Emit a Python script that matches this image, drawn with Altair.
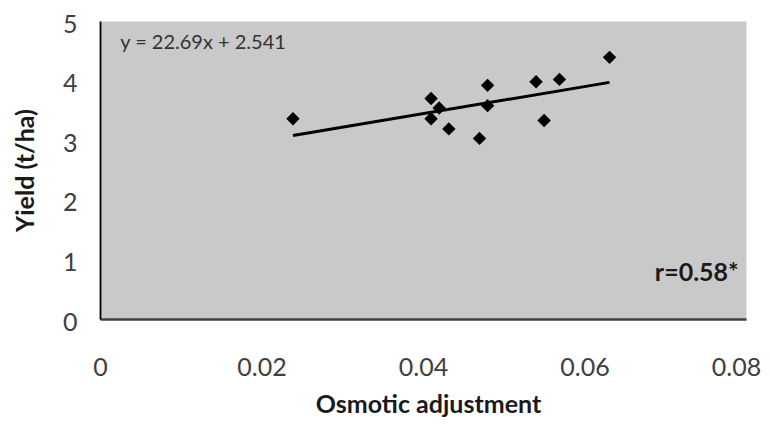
import altair as alt
import pandas as pd

# Scatter data
osmotic = [0.0239, 0.0410, 0.0420, 0.0410, 0.0432, 0.0470, 0.0480, 0.0480, 0.0540, 0.0550, 0.0569, 0.0631]
yield_t = [3.36, 3.70, 3.54, 3.36, 3.19, 3.03, 3.92, 3.58, 3.98, 3.33, 4.02, 4.39]

# Trend line end points
trend_x = [0.0239, 0.0631]
trend_y = [3.08, 3.97]

x_ticks = [0, 0.02, 0.04, 0.06, 0.08]
y_ticks = [0, 1, 2, 3, 4, 5]

equation_text = "y = 22.69x + 2.541"
r_text = "r=0.58*"

pts = pd.DataFrame({"x": osmotic, "y": yield_t})
trend = pd.DataFrame({"x": trend_x, "y": trend_y})
eq = pd.DataFrame({"x": [0.0025], "y": [4.63], "t": [equation_text]})
rr = pd.DataFrame({"x": [0.0791], "y": [0.77], "t": [r_text]})

FONT = "Lato"

xscale = alt.Scale(domain=[0, 0.08], nice=False, zero=False)
yscale = alt.Scale(domain=[0, 5], nice=False)

xaxis = alt.Axis(
    values=x_ticks, grid=False, ticks=False, labelFlush=False,
    labelExpr="datum.value == 0 ? '0' : format(datum.value, '.2f')",
    labelOffset={"condition": {"test": "datum.value >= 0.079", "value": -10}, "value": 0},
    labelFont=FONT, labelFontSize=25, labelColor="#404040", labelPadding=36,
    domainColor="#404040", domainWidth=2.5,
    title="Osmotic adjustment", titleFont=FONT, titleFontSize=25, titleFontWeight="bold",
    titleColor="#1a1a1a", titleX=328, titleY=85, titleBaseline="middle", titleAlign="center",
)
yaxis = alt.Axis(
    values=y_ticks, grid=False, ticks=False, labelFlush=False, format="d",
    labelOffset=3,
    labelFont=FONT, labelFontSize=25, labelColor="#404040", labelPadding=23,
    domainColor="#000000", domainWidth=1.8,
    title="Yield (t/ha)", titleFont=FONT, titleFontSize=25, titleFontWeight="bold",
    titleColor="#1a1a1a", titleX=-75, titleY=149, titleAngle=-90,
    titleBaseline="middle", titleAlign="center",
)

base_x = alt.X("x:Q", scale=xscale, axis=xaxis)
base_y = alt.Y("y:Q", scale=yscale, axis=yaxis)

line = alt.Chart(trend).mark_line(color="#000000", strokeWidth=3).encode(x=base_x, y=base_y)
points = alt.Chart(pts).mark_point(shape="diamond", filled=True, color="#000000", size=180, opacity=1).encode(
    x=alt.X("x:Q", scale=xscale), y=alt.Y("y:Q", scale=yscale)
)
eq_text = alt.Chart(eq).mark_text(align="left", baseline="middle", font=FONT, fontSize=20, color="#333333").encode(
    x=alt.X("x:Q", scale=xscale), y=alt.Y("y:Q", scale=yscale), text="t:N"
)
r_label = alt.Chart(rr).mark_text(align="right", baseline="middle", font=FONT, fontSize=25, fontWeight="bold", color="#1a1a1a").encode(
    x=alt.X("x:Q", scale=xscale), y=alt.Y("y:Q", scale=yscale), text="t:N"
)

chart = alt.layer(line, points, eq_text, r_label).properties(
    width=646, height=298,
    autosize=alt.AutoSizeParams(type="none"),
    padding={"left": 92, "top": 13, "right": 16, "bottom": 98},
    background="#ffffff",
).configure_view(fill="#c9c9c9", stroke="transparent")

chart.save("out.html", embed_options={"renderer": "svg", "actions": False})
